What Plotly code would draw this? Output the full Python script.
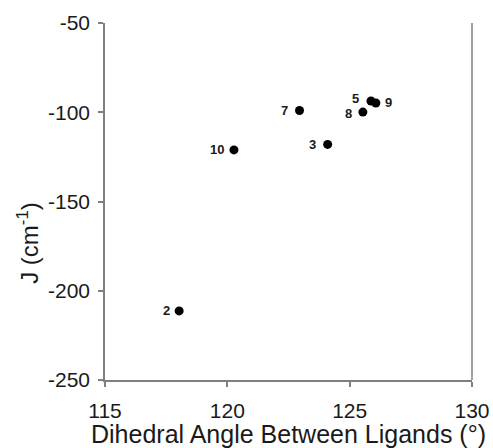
import plotly.graph_objects as go

# Data
labels = ["2", "10", "7", "3", "8", "5", "9"]
angles = [118.03, 120.27, 122.95, 124.1, 125.54, 125.87, 126.07]
j_values = [-211.3, -121.1, -99.0, -118.0, -99.9, -93.7, -94.8]

x_ticks = [115, 120, 125, 130]
y_ticks = [-250, -200, -150, -100, -50]

# label offsets (pixels) relative to the marker
label_dx = [-13, -17, -15, -15, -14, -15, 13]
label_dy = [0, 0, 0, 0, -1, 3, 0]

FONT = "Liberation Sans, Arial, sans-serif"
TXT = "#1a1a1a"
AX = "#7f7f7f"

fig = go.Figure()
fig.add_trace(go.Scatter(
    x=angles, y=j_values, mode="markers",
    marker=dict(color="black", size=9),
    hoverinfo="skip", showlegend=False,
))

for lab, xv, yv, dx, dy in zip(labels, angles, j_values, label_dx, label_dy):
    fig.add_annotation(x=xv, y=yv, text="<b>%s</b>" % lab, showarrow=False,
                       xshift=dx, yshift=dy, font=dict(family=FONT, size=13, color=TXT))

# right border line
fig.add_shape(type="line", xref="paper", yref="paper", x0=1, x1=1, y0=0, y1=1,
              line=dict(color=AX, width=1.5), layer="above")

fig.add_annotation(xref="paper", yref="paper", x=-0.21, y=0.384,
                   text="J (cm<sup>-1</sup>)", textangle=-90, showarrow=False,
                   xanchor="center", yanchor="middle",
                   font=dict(family=FONT, size=24, color=TXT))

fig.update_layout(
    width=493, height=448,
    margin=dict(l=105, r=21, t=23, b=68, autoexpand=False),
    paper_bgcolor="white", plot_bgcolor="white",
    font=dict(family=FONT, color=TXT),
    hovermode=False,
    xaxis=dict(
        range=[115, 130], tickvals=x_ticks, ticktext=[str(v) for v in x_ticks],
        showgrid=False, zeroline=False, showline=True, linecolor=AX, linewidth=1.5,
        ticks="outside", ticklen=5, tickcolor=AX, tickwidth=1.5,
        ticklabelstandoff=6, automargin=False,
        tickfont=dict(family=FONT, size=21, color=TXT),
        title=dict(text="Dihedral Angle Between Ligands (°)", standoff=2,
                   font=dict(family=FONT, size=25, color=TXT)),
    ),
    yaxis=dict(
        range=[-250, -50], tickvals=y_ticks, ticktext=[str(v) for v in y_ticks],
        showgrid=False, zeroline=False, showline=True, linecolor=AX, linewidth=1.5,
        ticks="outside", ticklen=5, tickcolor=AX, tickwidth=1.5,
        ticklabelstandoff=4, automargin=False,
        tickfont=dict(family=FONT, size=21, color=TXT),
    ),
)

fig.write_html(
    "out.html",
    config={"displayModeBar": False},
    post_script="document.body.style.margin='0';document.body.style.overflow='hidden';",
)
